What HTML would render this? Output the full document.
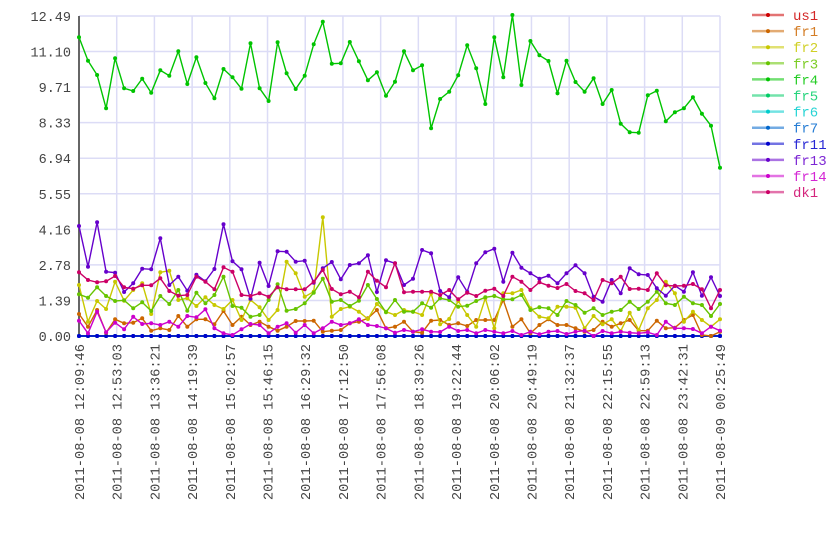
<!DOCTYPE html>
<html><head><meta charset="utf-8"><style>
html,body{margin:0;padding:0;background:#fff;width:840px;height:560px;overflow:hidden}
svg text{font-family:"Liberation Mono",monospace;font-size:13.5px}
</style></head><body>
<svg id="s" width="840" height="560" xmlns="http://www.w3.org/2000/svg"></svg>
<script>
var s=document.getElementById('s'),h='';
var L=79,R=720,T=16,B=336;
var yl=['0.00','1.39','2.78','4.16','5.55','6.94','8.33','9.71','11.10','12.49'];
for(var k=0;k<10;k++){var y=B-k*(B-T)/9;h+='<line x1="'+L+'" x2="'+R+'" y1="'+y+'" y2="'+y+'" stroke="#dcdcf6" stroke-width="1.5"/>';
h+='<text x="71" y="'+(y+5)+'" text-anchor="end" fill="#444">'+yl[k]+'</text>';}
var xl=['12:09:46','12:53:03','13:36:21','14:19:39','15:02:57','15:46:15','16:29:32','17:12:50','17:56:08','18:39:26','19:22:44','20:06:02','20:49:19','21:32:37','22:15:55','22:59:13','23:42:31','00:25:49'];
for(var k=0;k<18;k++){var x=L+k*(R-L)/17;h+='<line x1="'+x+'" x2="'+x+'" y1="'+T+'" y2="'+B+'" stroke="#dcdcf6" stroke-width="1.5"/>';
var d=k==17?'2011-08-09':'2011-08-08';
h+='<text transform="translate('+(x+5)+',344) rotate(-90)" text-anchor="end" fill="#444" style="font-size:13.7px">'+d+' '+xl[k]+'</text>';}
h+='<line x1="'+L+'" x2="'+L+'" y1="'+T+'" y2="'+(B+2)+'" stroke="#666" stroke-width="2"/>';
function cat(a,b){return a.slice(0,35).concat(b);}
var Z=new Array(72).fill(978);
var data={
fr4:cat([82,152,195,295,145,235,243,206,248,181,197,124,222,142,219,265,177,202,236,100,235,273,97,190,237,197,103,35,161,160,96,154,211,187,257,215,124],[215,124,181,166,355,267,245,196,106,175,282,82,202,15,225,93,136,153,250,152,216,245,205,282,240,341,367,368,256,242,334,307,295,262,311,347,473]),
fr13:cat([648,770,637,785,788,846,820,776,778,685,825,800,842,794,814,777,643,754,778,866,758,828,724,725,755,752,818,775,756,808,765,760,736,846,751,762,822],[760,825,806,720,730,843,862,802,845,760,727,716,815,728,773,790,806,797,820,790,766,790,860,875,810,850,775,793,795,835,857,827,845,787,857,802,858]),
dk1:cat([787,810,817,814,798,832,836,826,826,805,843,857,855,800,815,838,772,785,855,858,850,860,832,838,838,838,815,780,837,853,845,862,785,812,832,760,848],[760,847,845,845,845,855,840,868,848,858,842,836,858,800,815,840,817,827,834,822,843,850,870,810,820,800,837,836,840,790,826,828,827,822,838,895,840]),
fr3:cat([853,863,832,858,873,871,895,877,903,858,882,840,902,848,880,855,800,888,893,920,915,870,823,902,897,880,848,806,875,870,888,872,825,867,907,870,905],[870,905,905,880,893,865,870,890,887,873,862,858,868,868,855,900,892,895,915,873,885,908,895,915,905,900,875,897,875,845,880,885,860,880,885,918,882]),
fr2:cat([825,935,873,897,815,872,840,820,912,787,782,870,865,888,862,885,897,870,930,870,892,930,900,755,790,860,845,622,920,897,890,905,927,882,905,833,915],[915,900,905,915,850,943,927,873,915,950,865,955,850,850,840,895,920,925,890,890,893,955,918,943,928,963,908,960,895,870,815,850,935,905,930,950,928]),
fr1:cat([912,950,900,968,928,940,938,925,962,955,960,918,950,928,928,943,903,945,920,945,935,950,962,950,933,933,932,965,962,960,940,935,925,900,955,950,935],[950,935,965,968,932,930,945,940,948,930,930,930,870,950,928,970,945,928,945,945,955,965,960,935,950,940,930,962,962,932,955,953,930,915,975,985,965]),
fr14:cat([932,970,905,967,938,958,920,942,940,945,935,950,918,922,898,955,970,975,958,942,945,970,950,940,968,945,970,955,935,945,940,928,945,948,955,968,960],[968,960,965,958,965,966,950,963,960,970,960,965,970,963,975,965,973,965,963,972,965,962,978,963,970,965,968,970,967,975,935,955,955,957,970,950,962])
};
var ser=[['us1','#cc0000'],['fr1','#cc6600'],['fr2','#c8c800'],['fr3','#66c400'],['fr4','#00c400'],['fr5','#00cc66'],['fr6','#00cccc'],['fr7','#0066cc'],['fr11','#0000cc'],['fr13','#6600cc'],['fr14','#cc00cc'],['dk1','#cc0066']];
var order=['us1','fr5','fr6','fr7','fr11','fr1','fr2','fr3','fr4','fr13','fr14','dk1'];
var col={};ser.forEach(function(a){col[a[0]]=a[1];});
order.forEach(function(n){var d=data[n]||Z,c=col[n],p=[],dots='';
for(var i=0;i<72;i++){var x=L+i*(R-L)/71,y=Math.min(10+d[i]/3,B);p.push(x.toFixed(1)+','+y.toFixed(1));dots+='<circle cx="'+x.toFixed(1)+'" cy="'+y.toFixed(1)+'" r="2"/>';}
h+='<polyline points="'+p.join(' ')+'" fill="none" stroke="'+c+'" stroke-width="1.4"/><g fill="'+c+'">'+dots+'</g>';});
ser.forEach(function(a,i){var y=15+i*16.1;
h+='<line x1="752" x2="784" y1="'+y+'" y2="'+y+'" stroke="'+a[1]+'" stroke-opacity="0.55" stroke-width="2.5"/><circle cx="768" cy="'+y+'" r="2" fill="'+a[1]+'"/>';
h+='<text x="793" y="'+(y+5)+'" fill="'+a[1]+'" fill-opacity="0.85" style="font-size:14px">'+a[0]+'</text>';});
s.innerHTML=h;
</script>
</body></html>
